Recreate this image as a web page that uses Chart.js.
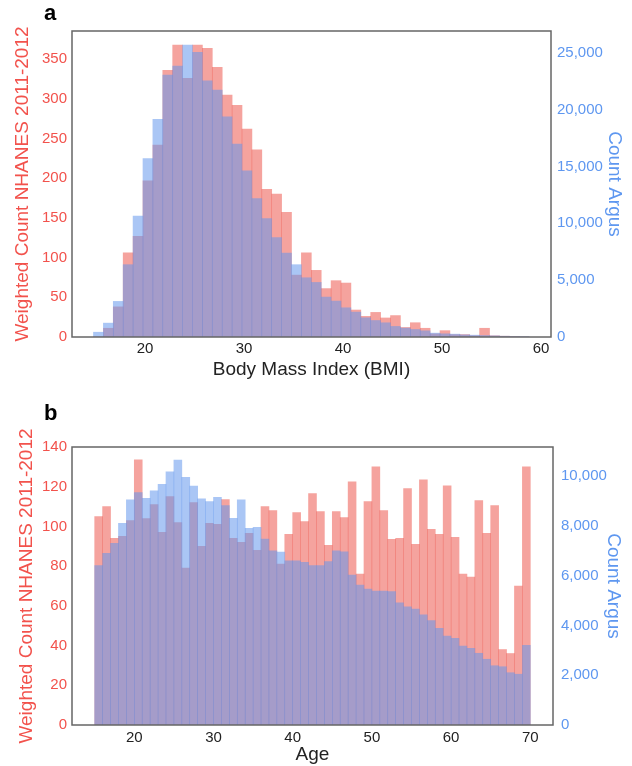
<!DOCTYPE html>
<html>
<head>
<meta charset="utf-8">
<script src="https://cdn.jsdelivr.net/npm/chart.js@4/dist/chart.umd.min.js"></script>
<style>
  html, body { margin: 0; padding: 0; background: #fff; width: 632px; height: 766px; overflow: hidden; }
  body { position: relative; font-family: "Liberation Sans", Arial, sans-serif; }
  .wrap { position: absolute; left: 0; width: 632px; }
  .lab { position: absolute; z-index: 2; font-weight: bold; font-size: 22px; line-height: 22px; color: #000; }
</style>
</head>
<body>
<div class="lab" style="left:44px; top:2px;">a</div>
<div class="lab" style="left:44px; top:402px;">b</div>
<div class="wrap" style="top:0; height:390px;"><canvas id="chartA" width="632" height="390" style="width:632px;height:390px;"></canvas></div>
<div class="wrap" style="top:390px; height:376px;"><canvas id="chartB" width="632" height="376" style="width:632px;height:376px;"></canvas></div>
<script>
// ---------- Panel a : BMI ----------
const bmiBinStart = [14.8,15.8,16.8,17.8,18.8,19.8,20.8,21.8,22.8,23.8,24.8,25.8,26.8,27.8,28.8,29.8,30.8,31.8,32.8,33.8,34.8,35.8,36.8,37.8,38.8,39.8,40.8,41.8,42.8,43.8,44.8,45.8,46.8,47.8,48.8,49.8,50.8,51.8,52.8,53.8,54.8,55.8,56.8,57.8];
const bmiNhanes = [0,11,38,106,127,197,242,336,368,326,368,364,340,305,292,262,236,186,180,157,78,106,84,61,71,68,34,26,31,24,27,12,18,11,4,8,3,3,1.5,11,1.5,1,0.5,0];
const bmiArgus  = [420,1220,3130,6360,10640,15690,19130,23030,23830,25680,25030,22530,21710,19360,16960,14610,12170,10410,8740,7380,6360,5210,4800,3510,3160,2570,2190,1690,1450,1250,930,780,660,540,340,280,250,190,160,130,100,70,45,30];
const bmiXTicks = [20,30,40,50,60];
const bmiLeftTicks = [0,50,100,150,200,250,300,350];
const bmiRightTicks = [0,5000,10000,15000,20000,25000];

// ---------- Panel b : Age ----------
const ageBinStart = [15,16,17,18,19,20,21,22,23,24,25,26,27,28,29,30,31,32,33,34,35,36,37,38,39,40,41,42,43,44,45,46,47,48,49,50,51,52,53,54,55,56,57,58,59,60,61,62,63,64,65,66,67,68,69];
const ageNhanes = [105,110,94,95,103,133.5,104,111,97,115,102,79,112,90,101.5,101,113.5,94,92,96.5,88,110,108,81,96,107,102.5,116.5,107.5,90.5,107.5,104.5,122.5,76,112.5,130,108,93.5,94,119,91,123.5,98.5,96,120.5,94.5,76,74.5,113,96.5,110.5,38,36,70,130];
const ageArgus  = [6400,6890,7300,8100,9040,9330,9100,9400,9670,10170,10640,9950,9600,9080,8970,9140,8810,8300,9040,7900,7940,7470,6990,6940,6590,6590,6530,6400,6400,6560,6990,6950,6020,5620,5460,5380,5380,5360,4910,4750,4660,4420,4190,3880,3570,3480,3170,3080,2880,2640,2380,2340,2100,2040,3200];
const ageXTicks = [20,30,40,50,60,70];
const ageLeftTicks = [0,20,40,60,80,100,120,140];
const ageRightTicks = [0,2000,4000,6000,8000,10000];

// ---------- styling ----------
const FONT = '"Liberation Sans", Arial, Helvetica, sans-serif';
const RED_TXT = '#F2524C';
const BLUE_TXT = '#5E97F0';
const RED_BAR = 'rgba(236,88,78,0.55)';
const BLUE_BAR = 'rgba(100,152,236,0.55)';
const AXIS_TXT = '#222';

const framePlugin = {
  id: 'frame',
  afterDatasetsDraw(chart) {
    const { ctx, chartArea: a } = chart;
    ctx.save();
    ctx.strokeStyle = '#666';
    ctx.lineWidth = 1.5;
    ctx.strokeRect(a.left, a.top, a.right - a.left, a.bottom - a.top);
    ctx.restore();
  }
};

const fmt = v => Number(v).toLocaleString('en-US');
const fixedTicks = arr => scale => { scale.ticks = arr.map(v => ({ value: v })); };

function build(id, o) {
  const pts = (xs, ys) => xs.map((x, i) => ({ x: x + 0.5, y: ys[i] }));
  return new Chart(document.getElementById(id), {
    type: 'bar',
    data: {
      datasets: [
        { label: 'Count Argus', data: pts(o.bins, o.argus), yAxisID: 'y1', backgroundColor: BLUE_BAR,
          borderWidth: 0, grouped: false, barPercentage: 1, categoryPercentage: 1, order: 0 },
        { label: 'Weighted Count NHANES 2011-2012', data: pts(o.bins, o.nhanes), yAxisID: 'y', backgroundColor: RED_BAR,
          borderWidth: 0, grouped: false, barPercentage: 1, categoryPercentage: 1, order: 1 }
      ]
    },
    options: {
      responsive: false,
      animation: false,
      devicePixelRatio: 1,
      layout: { padding: { top: o.padTop, left: 0, right: 0, bottom: 0 } },
      plugins: { legend: { display: false }, tooltip: { enabled: false }, title: { display: false } },
      scales: {
        x: {
          type: 'linear', position: 'bottom', offset: false, min: o.xMin, max: o.xMax,
          grid: { display: false, drawTicks: false }, border: { display: false },
          afterBuildTicks: fixedTicks(o.xTicks),
          afterFit: s => { s.height = o.xH; },
          ticks: { color: AXIS_TXT, font: { family: FONT, size: 15 }, padding: o.xTickPad, autoSkip: false, maxRotation: 0, callback: fmt },
          title: { display: true, text: o.xTitle, color: AXIS_TXT, font: { family: FONT, size: 19 }, padding: { top: 0, bottom: o.xTitlePad } }
        },
        y: {
          type: 'linear', position: 'left', min: 0, max: o.leftMax,
          grid: { display: false, drawTicks: false }, border: { display: false },
          afterBuildTicks: fixedTicks(o.leftTicks),
          afterFit: s => { s.width = o.leftW; },
          ticks: { color: RED_TXT, font: { family: FONT, size: 15 }, padding: 5, callback: fmt },
          title: { display: true, text: 'Weighted Count NHANES 2011-2012', color: RED_TXT, font: { family: FONT, size: 19 }, padding: { top: o.leftTitlePad, bottom: 0 } }
        },
        y1: {
          type: 'linear', position: 'right', min: 0, max: o.rightMax,
          grid: { display: false, drawTicks: false }, border: { display: false },
          afterBuildTicks: fixedTicks(o.rightTicks),
          afterFit: s => { s.width = o.rightW; },
          ticks: { color: BLUE_TXT, font: { family: FONT, size: 15 }, padding: o.rightTickPad, callback: fmt },
          title: { display: true, text: 'Count Argus', color: BLUE_TXT, font: { family: FONT, size: 19 }, padding: { top: o.rightTitlePad, bottom: 0 } }
        }
      }
    },
    plugins: [framePlugin]
  });
}

build('chartA', {
  bins: bmiBinStart, nhanes: bmiNhanes, argus: bmiArgus,
  xTicks: bmiXTicks, leftTicks: bmiLeftTicks, rightTicks: bmiRightTicks,
  xMin: 12.63, xMax: 61.01, leftMax: 385.7, rightMax: 26908,
  padTop: 31, xH: 53, xTickPad: 3, xTitle: 'Body Mass Index (BMI)', xTitlePad: 9,
  leftW: 72, rightW: 81, leftTitlePad: 11, rightTitlePad: 6, rightTickPad: 6
});

build('chartB', {
  bins: ageBinStart, nhanes: ageNhanes, argus: ageArgus,
  xTicks: ageXTicks, leftTicks: ageLeftTicks, rightTicks: ageRightTicks,
  xMin: 12.134, xMax: 72.866, leftMax: 140, rightMax: 11165,
  padTop: 57, xH: 41, xTickPad: 4, xTitle: 'Age', xTitlePad: 0,
  leftW: 72, rightW: 79, leftTitlePad: 15, rightTitlePad: 7, rightTickPad: 8
});
</script>
</body>
</html>
